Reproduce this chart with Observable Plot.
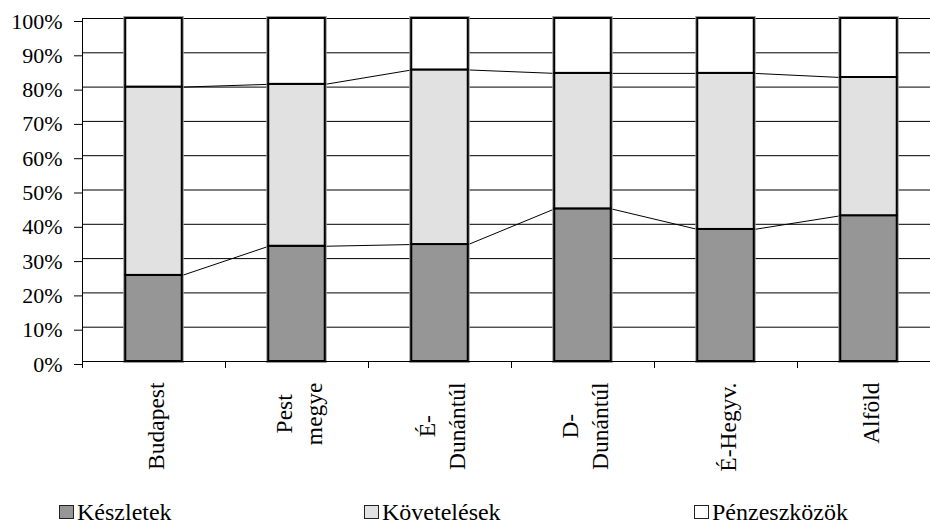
<!DOCTYPE html>
<html>
<head>
<meta charset="utf-8">
<script src="https://cdn.jsdelivr.net/npm/d3@7"></script>
<script src="https://cdn.jsdelivr.net/npm/@observablehq/plot@0.6"></script>
</head>
<body style="margin:0;padding:0;background:#fff;overflow:hidden;width:930px">
<div id="chart"></div>
<div id="legend"></div>
<script>
// ---- data ----
const regions = ["Budapest", "Pest\nmegye", "É-\nDunántúl", "D-\nDunántúl", "É-Hegyv.", "Alföld"];
const seriesNames = ["Készletek", "Követelések", "Pénzeszközök"];
const keszletek    = [25.1, 33.6, 34.1, 44.5, 38.5, 42.5];
const kovetelesek  = [54.9, 47.2, 50.9, 39.5, 45.5, 40.3];
const penzeszkozok = [20.0, 19.2, 15.0, 16.0, 16.0, 17.2];
const yTicks = [0, 10, 20, 30, 40, 50, 60, 70, 80, 90, 100];
const seriesColors = ["#969696", "#e1e1e1", "#ffffff"];

const familyName = ["Liberation", "Serif"].join(" ");
const FONT = `"${familyName}", monospace`;
document.body.style.fontFamily = FONT;

// ---- derived tables ----
const barWidth = 0.395;
const series = [keszletek, kovetelesek, penzeszkozok];
const rows = [];
regions.forEach((name, i) => {
  let acc = 0;
  series.forEach((vals, k) => {
    rows.push({k, i, left: i + 0.5 - barWidth / 2, right: i + 0.5 + barWidth / 2, y1: acc, y2: acc + vals[i]});
    acc += vals[i];
  });
});
const totals = regions.map((_, i) => ({left: i + 0.5 - barWidth / 2, right: i + 0.5 + barWidth / 2, y1: 0, y2: series.reduce((s, v) => s + v[i], 0)}));

// series lines connecting segment tops between adjacent bars
const links = [];
for (let k = 0; k < 2; k++) {
  for (let i = 0; i < regions.length - 1; i++) {
    const a = rows.find(r => r.i === i && r.k === k);
    const b = rows.find(r => r.i === i + 1 && r.k === k);
    links.push({x1: a.right, y1: a.y2, x2: b.left, y2: b.y2});
  }
}

// category labels, centered per line, block starting just below axis
const xFont = 23.5;
const ctx = document.createElement("canvas").getContext("2d");
ctx.font = `${xFont}px ${FONT}`;
const labelMarks = regions.map((name, i) => {
  const w = d3.max(name.split("\n"), s => ctx.measureText(s).width);
  return Plot.text([{name, mid: i + 0.5, base: 0}], {
    x: "mid", y: "base", text: "name", rotate: -90,
    textAnchor: "middle", lineAnchor: "middle", lineHeight: 1.3,
    fontSize: xFont, fontFamily: FONT, fill: "#000", dy: 21 + w / 2
  });
});

const chart = Plot.plot({
  width: 930,
  height: 495,
  marginTop: 18,
  marginBottom: 134,
  marginLeft: 82,
  marginRight: 0,
  style: {fontFamily: FONT, fontSize: "22px", color: "#000", background: "#fff", overflow: "hidden"},
  x: {type: "linear", domain: [0, regions.length], range: [82, 940], label: null},
  y: {domain: [0, 100], label: null},
  marks: [
    Plot.ruleY(yTicks, {stroke: "#000", strokeWidth: 1}),
    Plot.link(links, {x1: "x1", y1: "y1", x2: "x2", y2: "y2", stroke: "#000", strokeWidth: 1}),
    Plot.rectY(totals, {x1: "left", x2: "right", y1: "y1", y2: "y2", fill: "none", stroke: "#9a9a9a", strokeWidth: 4}),
    ...seriesNames.map((s, k) => Plot.rectY(rows.filter(r => r.k === k), {x1: "left", x2: "right", y1: "y1", y2: "y2", fill: seriesColors[k], stroke: "#000", strokeWidth: 2})),
    Plot.ruleX([0], {stroke: "#000", strokeWidth: 1}),
    Plot.ruleY([0], {stroke: "#000", strokeWidth: 1}),
    Plot.axisY({ticks: yTicks, tickFormat: d => d + "%", tickSize: 8, tickPadding: 12, fontSize: 22, fontFamily: FONT, dy: 3, label: null}),
    Plot.axisX({ticks: d3.range(0, regions.length + 1), tickSize: 7, tickFormat: () => "", label: null}),
    ...labelMarks
  ]
});
chart.style.fontFamily = FONT;
document.getElementById("chart").appendChild(chart);

// legend
const legend = document.getElementById("legend");
Object.assign(legend.style, {display: "flex", alignItems: "center", height: "34px", paddingLeft: "59px", boxSizing: "border-box", fontSize: "24px", lineHeight: "28px", fontFamily: FONT, color: "#000"});
const itemWidths = [305, 330, null];
seriesNames.forEach((name, k) => {
  const it = document.createElement("div");
  Object.assign(it.style, {display: "flex", alignItems: "center"});
  if (itemWidths[k]) it.style.width = itemWidths[k] + "px";
  const sw = document.createElement("span");
  Object.assign(sw.style, {display: "inline-block", width: "13px", height: "12px", border: "1.5px solid #222", marginRight: "3px", background: seriesColors[k]});
  const tx = document.createElement("span");
  tx.textContent = name;
  it.appendChild(sw);
  it.appendChild(tx);
  legend.appendChild(it);
});
</script>
</body>
</html>
